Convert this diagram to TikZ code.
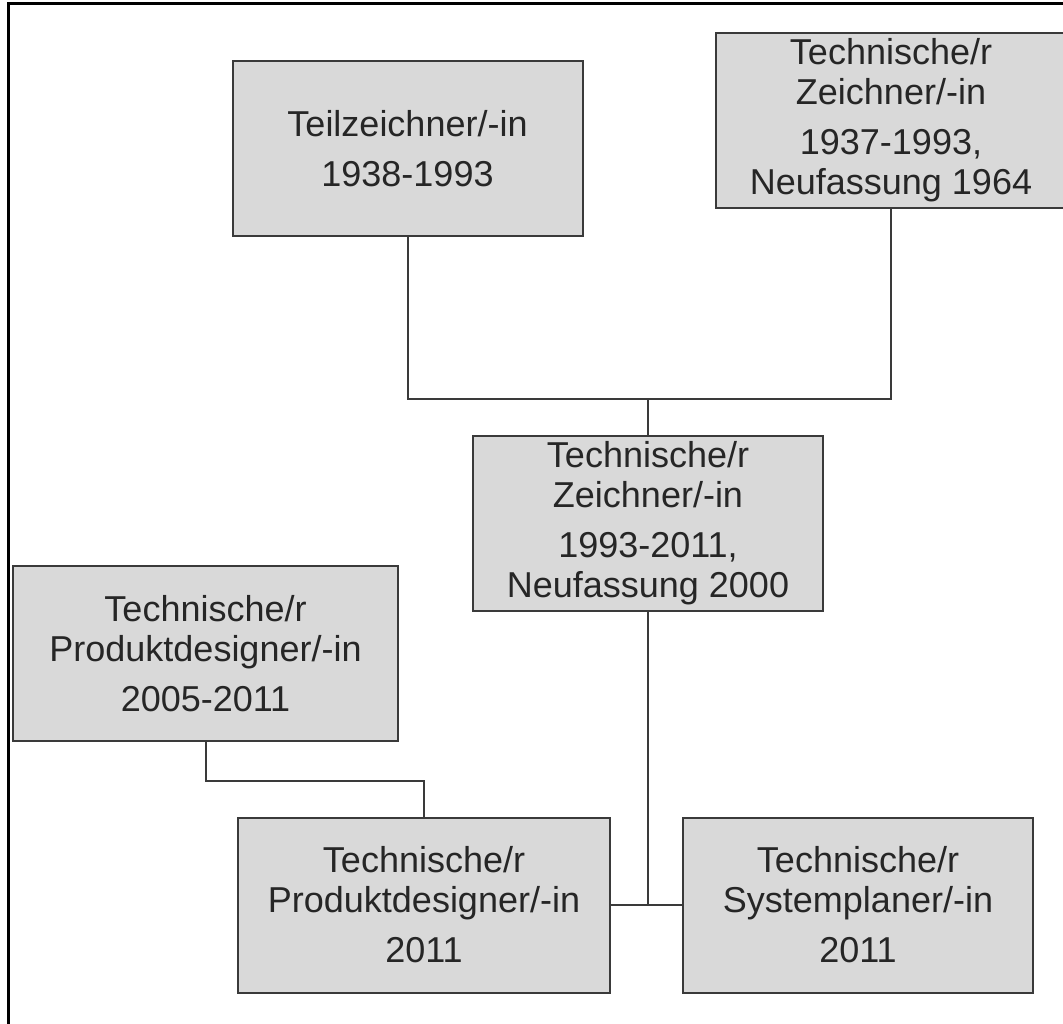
\documentclass[tikz,border=0pt]{standalone}
\usepackage{fontspec}
\setmainfont{Liberation Sans}
\definecolor{boxfill}{HTML}{D9D9D9}
\definecolor{boxline}{HTML}{3A3A3A}
\tikzset{
  job/.style={draw=boxline, line width=2pt, fill=boxfill, rectangle, inner sep=0pt,
    align=center, text=black!85, font=\fontsize{36}{40}\selectfont,
    minimum width=350pt, minimum height=175pt},
  link/.style={draw=boxline, line width=2pt}
}
\begin{document}
\begin{tikzpicture}[x=1pt,y=-1pt]
\useasboundingbox (0,0) rectangle (1063,1024);
\clip (0,0) rectangle (1063,1024);
\draw[line width=3pt] (8,1030) -- (8,4) -- (1070,4);

\node[job] (tz) at (407.5,148.5) {Teilzeichner/-in\\[10pt]1938-1993};
\node[job] (tz37) at (891,120.5) {Technische/r\\Zeichner/-in\\[10pt]1937-1993,\\Neufassung 1964};
\node[job] (tz93) at (648,523.5) {Technische/r\\Zeichner/-in\\[10pt]1993-2011,\\Neufassung 2000};
\node[job, minimum width=385pt] (pd05) at (205.5,653.5) {Technische/r\\Produktdesigner/-in\\[10pt]2005-2011};
\node[job, minimum width=372pt] (pd11) at (424,905) {Technische/r\\Produktdesigner/-in\\[10pt]2011};
\node[job] (sp11) at (858,905) {Technische/r\\Systemplaner/-in\\[10pt]2011};

\coordinate (j1) at (648,399);
\coordinate (j2) at (648,905);

\draw[link] (tz.south) |- (j1) -| (tz37.south);
\draw[link] (j1) -- (tz93.north);
\draw[link] (pd05.south) -- ++(0,39) -| (pd11.north);
\draw[link] (tz93.south) -- (j2);
\draw[link] (pd11.east) -- (sp11.west);
\end{tikzpicture}
\end{document}
